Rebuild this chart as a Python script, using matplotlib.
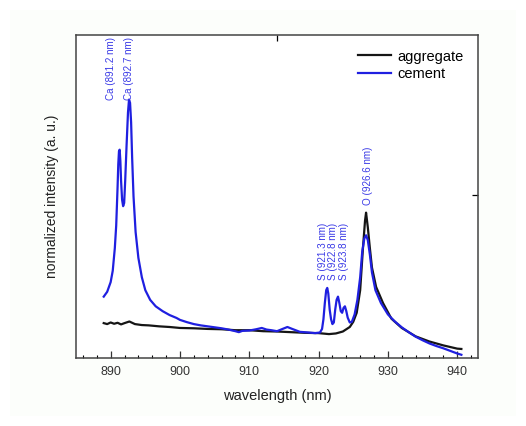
import matplotlib
matplotlib.use("Agg")
import matplotlib.pyplot as plt
from matplotlib.ticker import MultipleLocator

plt.rcParams['font.family'] = ['Liberation Sans', 'DejaVu Sans']

# ---- data ----
cement_wl = [889.0, 889.5, 890.0, 890.3, 890.6, 890.8, 891.0, 891.1, 891.2, 891.3,
             891.4, 891.5, 891.65, 891.8, 891.95, 892.1, 892.3, 892.5, 892.65, 892.8,
             892.95, 893.1, 893.3, 893.6, 894.0, 894.5, 895.0, 895.7, 896.5, 897.5,
             898.5, 899.5, 900.0, 901.0, 902.0, 903.0, 904.0, 905.0, 906.0, 907.0,
             908.0, 908.5, 909.0, 910.0, 911.0, 911.8, 912.5, 913.2, 914.0, 914.8,
             915.5, 916.2, 917.3, 918.5, 919.5, 920.2, 920.5, 920.7, 920.9, 921.1,
             921.25, 921.4, 921.6, 921.8, 922.0, 922.2, 922.4, 922.6, 922.8, 923.0,
             923.2, 923.4, 923.6, 923.8, 924.0, 924.2, 924.5, 924.8, 925.2, 925.6,
             926.0, 926.3, 926.6, 926.85, 927.1, 927.4, 927.7, 928.2, 929.0, 930.0,
             931.0, 932.0, 933.0, 934.0, 935.0, 936.0, 937.0, 938.0, 939.0, 940.0,
             940.6]
cement_val = [0.190, 0.205, 0.235, 0.270, 0.340, 0.410, 0.530, 0.600, 0.640, 0.645,
              0.610, 0.550, 0.490, 0.470, 0.480, 0.550, 0.660, 0.760, 0.800, 0.790,
              0.730, 0.620, 0.500, 0.390, 0.310, 0.250, 0.210, 0.180, 0.160, 0.145,
              0.133, 0.124, 0.118, 0.111, 0.105, 0.101, 0.098, 0.095, 0.092, 0.088,
              0.083, 0.080, 0.084, 0.085, 0.089, 0.093, 0.088, 0.086, 0.083, 0.090,
              0.096, 0.090, 0.081, 0.079, 0.077, 0.079, 0.090, 0.120, 0.170, 0.210,
              0.217, 0.200, 0.150, 0.120, 0.105, 0.110, 0.150, 0.180, 0.190, 0.170,
              0.145, 0.140, 0.155, 0.160, 0.145, 0.125, 0.110, 0.112, 0.135, 0.180,
              0.250, 0.330, 0.370, 0.380, 0.365, 0.320, 0.265, 0.210, 0.170, 0.135,
              0.113, 0.095, 0.080, 0.066, 0.055, 0.045, 0.037, 0.030, 0.022, 0.014,
              0.010]

aggregate_wl = [889.0, 889.5, 890.0, 890.5, 891.0, 891.5, 892.0, 892.7, 893.5, 894.5,
                895.5, 897.0, 898.5, 900.0, 902.0, 904.0, 906.0, 908.0, 910.0, 912.0,
                914.0, 916.0, 918.0, 920.0, 921.5, 922.5, 923.5, 924.5, 925.0, 925.5,
                926.0, 926.4, 926.7, 926.85, 927.1, 927.4, 927.7, 928.3, 929.3, 930.5,
                932.0, 934.0, 936.0, 938.0, 939.0, 940.0, 940.6]
aggregate_val = [0.108, 0.105, 0.110, 0.106, 0.109, 0.104, 0.108, 0.113, 0.105, 0.102,
                 0.101, 0.098, 0.096, 0.093, 0.092, 0.090, 0.089, 0.086, 0.086, 0.083,
                 0.082, 0.080, 0.078, 0.077, 0.074, 0.076, 0.082, 0.096, 0.112, 0.140,
                 0.210, 0.340, 0.425, 0.450, 0.405, 0.340, 0.280, 0.220, 0.170, 0.122,
                 0.093, 0.067, 0.051, 0.039, 0.034, 0.029, 0.028]

peak_labels = ['Ca (891.2 nm)', 'Ca (892.7 nm)', 'S (921.3 nm)', 'S (922.8 nm)',
               'S (923.8 nm)', 'O (926.6 nm)']
peak_label_x = [890.0, 892.7, 920.6, 922.1, 923.7, 927.1]
peak_label_y = [0.799, 0.799, 0.241, 0.241, 0.241, 0.474]

series_names = ['aggregate', 'cement']
x_ticks = [890, 900, 910, 920, 930, 940]

# ---- figure ----
fig = plt.figure(figsize=(5.26, 4.26), dpi=100)
fig.patch.set_facecolor('white')
fig.patches.append(plt.Rectangle((10 / 526, 10 / 426), 506 / 526, 406 / 426,
                                 transform=fig.transFigure, facecolor='#fcfefb',
                                 edgecolor='none', zorder=-10))
ax = fig.add_axes([76 / 526, 1 - 358 / 426, (478 - 76) / 526, (358 - 35) / 426])
ax.set_facecolor('white')

black = '#151515'
blue = '#1f1fe0'
ax.plot(aggregate_wl, aggregate_val, color=black, lw=1.6, label=series_names[0])
ax.plot(cement_wl, cement_val, color=blue, lw=1.6, label=series_names[1])

for t, x, y in zip(peak_labels, peak_label_x, peak_label_y):
    ax.text(x, y, t, rotation=90, ha='center', va='bottom', fontsize=7.1,
            color='#3a3ae6')

ax.set_xlim(885, 943)
ax.set_ylim(0, 1)
ax.set_xticks(x_ticks)
ax.xaxis.set_minor_locator(MultipleLocator(2))
ax.set_yticks([])
ax.tick_params(axis='x', which='major', direction='in', length=5, width=0.9,
               labelsize=9, colors='#333333', pad=6)
ax.tick_params(axis='x', which='minor', direction='in', length=2.5, width=0.8)
for s in ax.spines.values():
    s.set_color('#444444')
    s.set_linewidth(1.1)

# stray single ticks on top and right spines
top = ax.secondary_xaxis('top')
top.set_xticks([914])
top.set_xticklabels([])
top.tick_params(direction='in', length=4, width=0.9)
top.spines['top'].set_visible(False)
right = ax.secondary_yaxis('right')
right.set_yticks([0.505])
right.set_yticklabels([])
right.tick_params(direction='in', length=4, width=0.9)
right.spines['right'].set_visible(False)

ax.set_xlabel('wavelength (nm)', fontsize=10.5, color='#222222', labelpad=8)
ax.set_ylabel('normalized intensity (a. u.)', fontsize=10, color='#222222', labelpad=12)

leg = ax.legend(loc='upper right', frameon=False, fontsize=10.5, handlelength=2.3,
                handletextpad=0.4, labelspacing=0.25, borderaxespad=0.6)

fig.savefig('out.png', dpi=100)
